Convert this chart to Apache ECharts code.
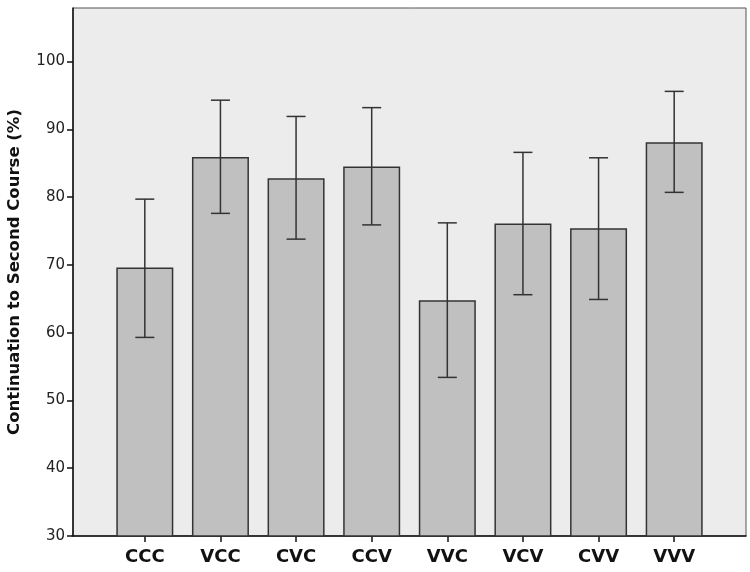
<!DOCTYPE html>
<html>
<head>
<meta charset="utf-8">
<script src="https://cdn.jsdelivr.net/npm/echarts@6/dist/echarts.min.js"></script>
<style>html,body{margin:0;padding:0;background:#fff}#c{width:750px;height:572px}</style>
</head>
<body>
<div id="c"></div>
<script>
const categories = ['CCC','VCC','CVC','CCV','VVC','VCV','CVV','VVV'];
const means = [69.6, 85.9, 82.8, 84.5, 64.8, 76.1, 75.4, 88.1];
const lowerCI = [59.3, 77.6, 73.8, 75.9, 53.4, 65.6, 64.9, 80.7];
const upperCI = [79.7, 94.3, 91.9, 93.2, 76.2, 86.6, 85.8, 95.6];
const yTicks = [30, 40, 50, 60, 70, 80, 90, 100];
const yTitle = 'Continuation to Second Course (%)';

const YMIN = 30, YMAX = 107.9;
const FONT = 'DejaVu Sans';
const chart = echarts.init(document.getElementById('c'), null, {renderer: 'canvas'});
const errData = categories.map((c, i) => [i, lowerCI[i], upperCI[i]]);

chart.setOption({
  animation: false,
  backgroundColor: '#ffffff',
  grid: [
    {left: 73, right: 4, top: 8, bottom: 36, containLabel: false, outerBoundsMode: 'none',
     show: true, backgroundColor: '#ececec', borderColor: '#555', borderWidth: 1},
    {left: 107, right: 38, top: 8, bottom: 36, containLabel: false, outerBoundsMode: 'none'}
  ],
  xAxis: [
    {gridIndex: 0, type: 'value', min: 0, max: 1, axisLine: {show: true, lineStyle: {color: '#111', width: 1.5}},
     axisTick: {show: false}, axisLabel: {show: false}, splitLine: {show: false}},
    {gridIndex: 1, type: 'category', data: categories, axisLine: {show: false},
     axisTick: {show: true, alignWithLabel: true, length: 6, lineStyle: {color: '#111', width: 1.5}},
     axisLabel: {fontFamily: FONT, fontWeight: 'bold', fontSize: 18, color: '#111', margin: 12}}
  ],
  yAxis: [
    {gridIndex: 0, type: 'value', min: YMIN, max: YMAX,
     name: yTitle, nameLocation: 'middle', nameGap: 50,
     nameTextStyle: {fontFamily: FONT, fontWeight: 'bold', fontSize: 16.5, color: '#111'},
     axisLine: {show: true, lineStyle: {color: '#111', width: 1.5}},
     axisTick: {show: true, length: 6, customValues: yTicks, lineStyle: {color: '#111', width: 1.5}},
     axisLabel: {customValues: yTicks, fontFamily: FONT, fontSize: 15, color: '#222', margin: 8},
     splitLine: {show: false}},
    {gridIndex: 1, type: 'value', min: YMIN, max: YMAX, show: false, splitLine: {show: false}}
  ],
  series: [
    {type: 'bar', xAxisIndex: 1, yAxisIndex: 1, data: means, barWidth: 57, clip: true,
     itemStyle: {color: '#c0c0c0', borderColor: '#333', borderWidth: 1.5}},
    {type: 'custom', xAxisIndex: 1, yAxisIndex: 1, data: errData, z: 5,
     renderItem: function (params, api) {
       const x = api.coord([api.value(0), api.value(1)])[0];
       const yl = api.coord([api.value(0), api.value(1)])[1];
       const yu = api.coord([api.value(0), api.value(2)])[1];
       const hw = 9.5;
       const st = {stroke: '#333', lineWidth: 1.5};
       return {type: 'group', children: [
         {type: 'line', shape: {x1: x, y1: yu, x2: x, y2: yl}, style: st},
         {type: 'line', shape: {x1: x - hw, y1: yu, x2: x + hw, y2: yu}, style: st},
         {type: 'line', shape: {x1: x - hw, y1: yl, x2: x + hw, y2: yl}, style: st}
       ]};
     }}
  ]
});
</script>
</body>
</html>
